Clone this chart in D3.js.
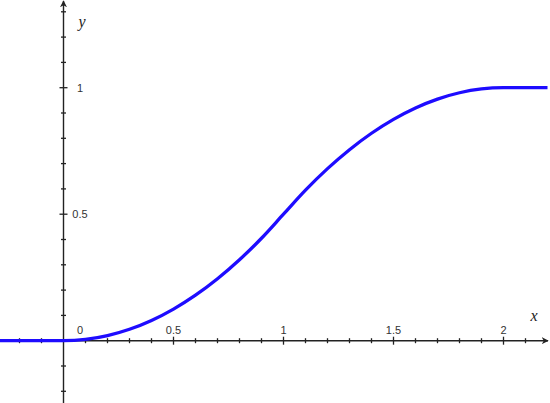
<!DOCTYPE html>
<html><head><meta charset="utf-8">
<script src="https://cdn.jsdelivr.net/npm/d3@7"></script>
<style>body{margin:0;background:#fff}svg{display:block}</style>
</head><body>
<script>
// Curve samples
const xValues = [-0.29, 0, 0.1, 0.2, 0.3, 0.4, 0.5, 0.6, 0.7, 0.8, 0.9, 1.0, 1.1, 1.2, 1.3, 1.4, 1.5, 1.6, 1.7, 1.8, 1.9, 2.0, 2.2];
const yValues = [0, 0, 0.005, 0.02, 0.045, 0.08, 0.125, 0.18, 0.245, 0.32, 0.405, 0.5, 0.595, 0.68, 0.755, 0.82, 0.875, 0.92, 0.955, 0.98, 0.995, 1, 1];
const xMajorTicks = [0.5, 1, 1.5, 2];
const xTickLabels = ["0.5", "1", "1.5", "2"];
const yMajorTicks = [0.5, 1];
const yTickLabels = ["0.5", "1"];
const xMinorTicks = [-0.2, -0.1, 0.1, 0.2, 0.3, 0.4, 0.6, 0.7, 0.8, 0.9, 1.1, 1.2, 1.3, 1.4, 1.6, 1.7, 1.8, 1.9, 2.1];
const yMinorTicks = [-0.2, -0.1, 0.1, 0.2, 0.3, 0.4, 0.6, 0.7, 0.8, 0.9, 1.1, 1.2, 1.3];

const W = 550, H = 403;
const x = d3.scaleLinear().domain([0, 1]).range([63.5, 283.5]);
const y = d3.scaleLinear().domain([0, 1]).range([340.7, 87.7]);

const svg = d3.select("body").append("svg").attr("width", W).attr("height", H);
const axisColor = "#222";

// arrow marker
svg.append("defs").append("marker")
  .attr("id", "arr").attr("viewBox", "0 0 10 10").attr("refX", 9).attr("refY", 5)
  .attr("markerWidth", 7).attr("markerHeight", 7).attr("markerUnits", "userSpaceOnUse")
  .attr("orient", "auto")
  .append("path").attr("d", "M0,0 L10,5 L0,10 L3,5 Z").attr("fill", axisColor);

// x axis
svg.append("line").attr("x1", 0).attr("x2", 548).attr("y1", y(0)).attr("y2", y(0))
  .attr("stroke", axisColor).attr("stroke-width", 1.4).attr("marker-end", "url(#arr)");
// y axis
svg.append("line").attr("x1", x(0)).attr("x2", x(0)).attr("y1", H).attr("y2", 1)
  .attr("stroke", axisColor).attr("stroke-width", 1.4).attr("marker-end", "url(#arr)");

// x ticks
svg.selectAll(".xmin").data(xMinorTicks).join("line")
  .attr("x1", d => x(d)).attr("x2", d => x(d)).attr("y1", y(0) - 2.5).attr("y2", y(0) + 2.5)
  .attr("stroke", axisColor).attr("stroke-width", 1.3);
svg.selectAll(".xmaj").data(xMajorTicks).join("line")
  .attr("x1", d => x(d)).attr("x2", d => x(d)).attr("y1", y(0) - 4).attr("y2", y(0) + 4)
  .attr("stroke", axisColor).attr("stroke-width", 1.3);
// y ticks
svg.selectAll(".ymin").data(yMinorTicks).join("line")
  .attr("y1", d => y(d)).attr("y2", d => y(d)).attr("x1", x(0) - 2.5).attr("x2", x(0) + 2.5)
  .attr("stroke", axisColor).attr("stroke-width", 1.3);
svg.selectAll(".ymaj").data(yMajorTicks).join("line")
  .attr("y1", d => y(d)).attr("y2", d => y(d)).attr("x1", x(0) - 4).attr("x2", x(0) + 4)
  .attr("stroke", axisColor).attr("stroke-width", 1.3);

const font = "Liberation Sans, Arial, sans-serif";
// x labels
svg.selectAll(".xl").data(xMajorTicks).join("text")
  .attr("x", d => x(d)).attr("y", y(0) - 6.5).attr("text-anchor", "middle")
  .attr("font-family", font).attr("font-size", 11).attr("fill", "#333")
  .text((d, i) => xTickLabels[i]);
svg.append("text").attr("x", x(0) + 16.5).attr("y", y(0) - 6.5).attr("text-anchor", "middle")
  .attr("font-family", font).attr("font-size", 11).attr("fill", "#333").text("0");
// y labels
svg.selectAll(".yl").data(yMajorTicks).join("text")
  .attr("x", x(0) + 16.5).attr("y", d => y(d) + 4).attr("text-anchor", "middle")
  .attr("font-family", font).attr("font-size", 11).attr("fill", "#333")
  .text((d, i) => yTickLabels[i]);

// axis names
svg.append("text").attr("x", 534).attr("y", 321).attr("text-anchor", "middle")
  .attr("font-family", "Liberation Serif, Times New Roman, serif").attr("font-style", "italic")
  .attr("font-size", 16).attr("fill", "#222").text("x");
svg.append("text").attr("x", 82).attr("y", 27).attr("text-anchor", "middle")
  .attr("font-family", "Liberation Serif, Times New Roman, serif").attr("font-style", "italic")
  .attr("font-size", 16).attr("fill", "#222").text("y");

// curve
const pts = xValues.map((v, i) => [v, yValues[i]]);
const line = d3.line().x(d => x(d[0])).y(d => y(d[1])).curve(d3.curveMonotoneX);
svg.append("path").attr("d", line(pts)).attr("fill", "none")
  .attr("stroke", "#1e0cff").attr("stroke-width", 3.3).attr("stroke-linecap", "butt");
</script>
</body></html>
